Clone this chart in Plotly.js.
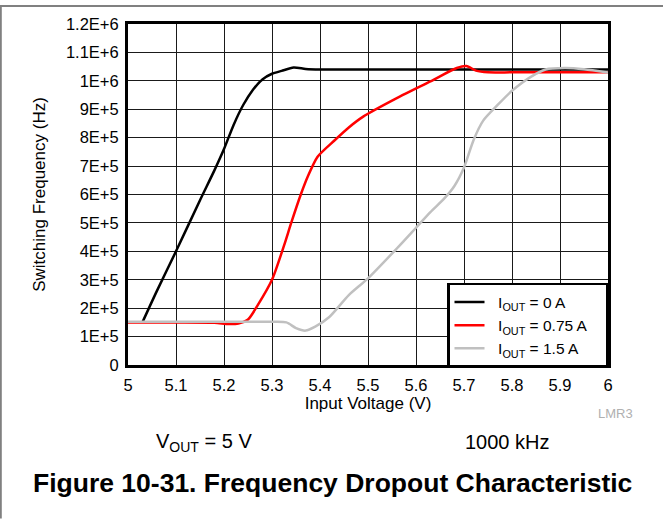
<!DOCTYPE html>
<html>
<head>
<meta charset="utf-8">
<script src="https://cdn.plot.ly/plotly-3.0.1.min.js"></script>
<style>
html,body{margin:0;padding:0;background:#fff;}
#chart{width:663px;height:521px;}
</style>
</head>
<body>
<div id="chart"></div>
<script>
// Data
const xBlack = [5.03, 5.06, 5.10, 5.15, 5.18, 5.20, 5.22, 5.24, 5.26, 5.28, 5.30, 5.32, 5.345, 5.37, 5.40, 5.50, 5.60, 5.70, 5.80, 5.90, 6.00];
const yBlack = [1.5e5, 2.6e5, 4.0e5, 5.8e5, 6.85e5, 7.6e5, 8.45e5, 9.15e5, 9.68e5, 1.005e6, 1.025e6, 1.035e6, 1.047e6, 1.042e6, 1.04e6, 1.04e6, 1.04e6, 1.04e6, 1.04e6, 1.04e6, 1.04e6];

const xRed = [5.00, 5.10, 5.18, 5.21, 5.23, 5.25, 5.27, 5.30, 5.325, 5.34, 5.36, 5.375, 5.395, 5.43, 5.46, 5.49, 5.56, 5.63, 5.685, 5.705, 5.725, 5.75, 5.80, 5.90, 6.00];
const yRed = [1.5e5, 1.5e5, 1.49e5, 1.44e5, 1.46e5, 1.6e5, 2.1e5, 3.0e5, 4.2e5, 5.0e5, 6.0e5, 6.65e5, 7.33e5, 7.9e5, 8.36e5, 8.74e5, 9.39e5, 9.98e5, 1.045e6, 1.052e6, 1.036e6, 1.03e6, 1.03e6, 1.03e6, 1.03e6];

const xGray = [5.00, 5.10, 5.20, 5.30, 5.33, 5.35, 5.37, 5.39, 5.42, 5.46, 5.50, 5.56, 5.60, 5.63, 5.66, 5.68, 5.70, 5.72, 5.74, 5.77, 5.80, 5.84, 5.87, 5.91, 5.95, 6.00];
const yGray = [1.52e5, 1.52e5, 1.52e5, 1.52e5, 1.5e5, 1.3e5, 1.21e5, 1.35e5, 1.7e5, 2.46e5, 3.05e5, 4.1e5, 4.83e5, 5.38e5, 5.88e5, 6.3e5, 6.95e5, 7.92e5, 8.6e5, 9.15e5, 9.65e5, 1.015e6, 1.04e6, 1.045e6, 1.041e6, 1.029e6];

const NB = '\u00a0';
const seriesNames = [
  NB + NB + 'I<sub>OUT</sub> = 0 A',
  NB + NB + 'I<sub>OUT</sub> = 0.75 A' + NB + NB + NB,
  NB + NB + 'I<sub>OUT</sub> = 1.5 A'
];

const xTickVals = [5, 5.1, 5.2, 5.3, 5.4, 5.5, 5.6, 5.7, 5.8, 5.9, 6];
const xTickText = ['5', '5.1', '5.2', '5.3', '5.4', '5.5', '5.6', '5.7', '5.8', '5.9', '6'];
const yTickVals = [0, 1e5, 2e5, 3e5, 4e5, 5e5, 6e5, 7e5, 8e5, 9e5, 1e6, 1.1e6, 1.2e6];
const yTickText = ['0', '1E+5', '2E+5', '3E+5', '4E+5', '5E+5', '6E+5', '7E+5', '8E+5', '9E+5', '1E+6', '1.1E+6', '1.2E+6'];

const FONT = 'Liberation Sans, Arial, sans-serif';

const traces = [
  {x: xBlack, y: yBlack, name: seriesNames[0], mode: 'lines', line: {color: '#000000', width: 2.5, shape: 'spline', smoothing: 0.7}},
  {x: xRed, y: yRed, name: seriesNames[1], mode: 'lines', line: {color: '#ff0000', width: 2.5, shape: 'spline', smoothing: 0.7}},
  {x: xGray, y: yGray, name: seriesNames[2], mode: 'lines', line: {color: '#c0c0c0', width: 2.5, shape: 'spline', smoothing: 0.7}}
];

const layout = {
  width: 663, height: 521,
  margin: {l: 128, r: 55, t: 24, b: 156},
  paper_bgcolor: '#ffffff', plot_bgcolor: '#ffffff',
  font: {family: FONT, size: 16, color: '#000'},
  showlegend: true,
  legend: {x: 1, y: 0.2405, xanchor: 'right', yanchor: 'top', bgcolor: '#ffffff', bordercolor: '#000', borderwidth: 2.5,
           font: {family: FONT, size: 15.5, color: '#000'}, tracegroupgap: 0, itemwidth: 30},
  xaxis: {range: [5, 6], tickvals: xTickVals, ticktext: xTickText, showgrid: true, gridcolor: '#1a1a1a', gridwidth: 1,
          showline: true, linecolor: '#000', linewidth: 3, mirror: true, ticks: '', zeroline: false,
          tickfont: {family: FONT, size: 16.5}, ticklabelstandoff: 3,
          title: {text: 'Input Voltage (V)', font: {family: FONT, size: 17}, standoff: 3}},
  yaxis: {range: [0, 1.2e6], tickvals: yTickVals, ticktext: yTickText, showgrid: true, gridcolor: '#1a1a1a', gridwidth: 1,
          showline: true, linecolor: '#000', linewidth: 3, mirror: true, ticks: '', zeroline: false,
          tickfont: {family: FONT, size: 16.5}, ticklabelstandoff: 3,
          title: {text: 'Switching Frequency (Hz)', font: {family: FONT, size: 17}, standoff: 16}},
  shapes: [
    {type: 'line', xref: 'paper', yref: 'paper', x0: -0.27, x1: 1.2, y0: 1.053, y1: 1.053, line: {color: '#808080', width: 2}},
    {type: 'line', xref: 'paper', yref: 'paper', x0: -0.265, x1: -0.265, y0: 1.053, y1: -0.45, line: {color: '#808080', width: 2}}
  ],
  annotations: [
    {xref: 'paper', yref: 'paper', x: 1.056, y: -0.141, xanchor: 'right', yanchor: 'middle', showarrow: false,
     text: 'LMR3', font: {family: FONT, size: 13, color: '#b0b0b0'}},
    {xref: 'paper', yref: 'paper', x: 0.158, y: -0.226, xanchor: 'center', yanchor: 'middle', showarrow: false,
     text: 'V<sub>OUT</sub> = 5 V', font: {family: FONT, size: 20, color: '#000'}},
    {xref: 'paper', yref: 'paper', x: 0.79, y: -0.226, xanchor: 'center', yanchor: 'middle', showarrow: false,
     text: '1000 kHz', font: {family: FONT, size: 20, color: '#000'}},
    {xref: 'paper', yref: 'paper', x: 0.426, y: -0.346, xanchor: 'center', yanchor: 'middle', showarrow: false,
     text: '<b>Figure 10-31. Frequency Dropout Characteristic</b>', font: {family: FONT, size: 26.5, color: '#000'}}
  ]
};

Plotly.newPlot('chart', traces, layout, {staticPlot: true, displayModeBar: false});
</script>
</body>
</html>
